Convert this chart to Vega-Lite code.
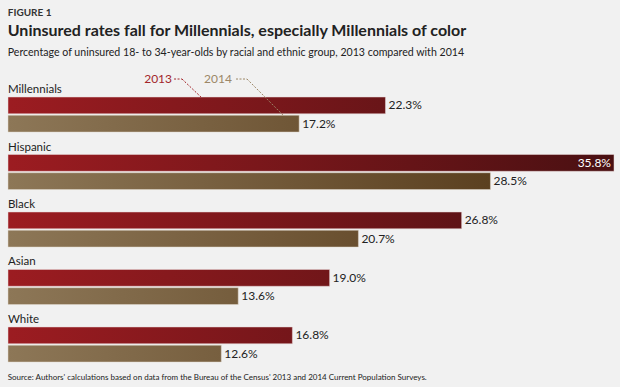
{
  "$schema": "https://vega.github.io/schema/vega-lite/v6.json",
  "background": "#f1f1f1",
  "padding": {"left": 7, "right": 6, "top": 8, "bottom": 4},
  "config": {"font": "Lato", "view": {"stroke": null}},
  "title": {"text": "FIGURE 1", "anchor": "start", "fontSize": 10, "fontWeight": "bold", "color": "#333333", "offset": 5},
  "vconcat": [
    {
      "title": {"text": "Source: Authors' calculations based on data from the Bureau of the Census' 2013 and 2014 Current Population Surveys.", "orient": "bottom", "anchor": "start", "fontSize": 8, "fontWeight": "normal", "color": "#222222", "offset": 12},
      "vconcat": [
        {
          "title": {"text": "Uninsured rates fall for Millennials, especially Millennials of color", "subtitle": "Percentage of uninsured 18- to 34-year-olds by racial and ethnic group, 2013 compared with 2014", "anchor": "start", "fontSize": 16, "fontWeight": "bold", "color": "#222222", "subtitleFontSize": 10.6, "subtitleColor": "#222222", "subtitlePadding": 9, "offset": 11},
          "data": {"values": [
            {"group": "Millennials", "year": "2013", "value": 0.223},
            {"group": "Millennials", "year": "2014", "value": 0.172},
            {"group": "Hispanic", "year": "2013", "value": 0.358},
            {"group": "Hispanic", "year": "2014", "value": 0.285},
            {"group": "Black", "year": "2013", "value": 0.268},
            {"group": "Black", "year": "2014", "value": 0.207},
            {"group": "Asian", "year": "2013", "value": 0.190},
            {"group": "Asian", "year": "2014", "value": 0.136},
            {"group": "White", "year": "2013", "value": 0.168},
            {"group": "White", "year": "2014", "value": 0.126}
          ]},
          "width": 606,
          "height": 292,
          "encoding": {
            "y": {"field": "group", "type": "nominal", "axis": null, "sort": ["Millennials", "Hispanic", "Black", "Asian", "White"], "scale": {"paddingInner": 0.391, "paddingOuter": 0.235, "align": 1}},
            "x": {"field": "value", "type": "quantitative", "axis": null, "scale": {"domain": [0, 0.358], "nice": false, "zero": true}}
          },
          "layer": [
            {"transform": [{"filter": "datum.group == 'Millennials' && datum.year == '2013'"}], "mark": {"type": "bar", "stroke": "#e8d8d8", "strokeWidth": 0.5, "color": {"gradient": "linear", "x1": 0, "x2": 1, "y1": 0, "y2": 0, "stops": [{"offset": 0, "color": "#9c1c21"}, {"offset": 1, "color": "#691518"}]}}, "encoding": {"yOffset": {"field": "year", "type": "ordinal", "scale": {"domain": ["2013", "2014"], "paddingInner": 0.08}}}},
            {"transform": [{"filter": "datum.group == 'Hispanic' && datum.year == '2013'"}], "mark": {"type": "bar", "stroke": "#e8d8d8", "strokeWidth": 0.5, "color": {"gradient": "linear", "x1": 0, "x2": 1, "y1": 0, "y2": 0, "stops": [{"offset": 0, "color": "#9c1c21"}, {"offset": 1, "color": "#4a1012"}]}}, "encoding": {"yOffset": {"field": "year", "type": "ordinal"}}},
            {"transform": [{"filter": "datum.group == 'Black' && datum.year == '2013'"}], "mark": {"type": "bar", "stroke": "#e8d8d8", "strokeWidth": 0.5, "color": {"gradient": "linear", "x1": 0, "x2": 1, "y1": 0, "y2": 0, "stops": [{"offset": 0, "color": "#9c1c21"}, {"offset": 1, "color": "#5f1316"}]}}, "encoding": {"yOffset": {"field": "year", "type": "ordinal"}}},
            {"transform": [{"filter": "datum.group == 'Asian' && datum.year == '2013'"}], "mark": {"type": "bar", "stroke": "#e8d8d8", "strokeWidth": 0.5, "color": {"gradient": "linear", "x1": 0, "x2": 1, "y1": 0, "y2": 0, "stops": [{"offset": 0, "color": "#9c1c21"}, {"offset": 1, "color": "#711619"}]}}, "encoding": {"yOffset": {"field": "year", "type": "ordinal"}}},
            {"transform": [{"filter": "datum.group == 'White' && datum.year == '2013'"}], "mark": {"type": "bar", "stroke": "#e8d8d8", "strokeWidth": 0.5, "color": {"gradient": "linear", "x1": 0, "x2": 1, "y1": 0, "y2": 0, "stops": [{"offset": 0, "color": "#9c1c21"}, {"offset": 1, "color": "#75161a"}]}}, "encoding": {"yOffset": {"field": "year", "type": "ordinal"}}},
            {"transform": [{"filter": "datum.group == 'Millennials' && datum.year == '2014'"}], "mark": {"type": "bar", "stroke": "#e0d8cc", "strokeWidth": 0.5, "color": {"gradient": "linear", "x1": 0, "x2": 1, "y1": 0, "y2": 0, "stops": [{"offset": 0, "color": "#8d7757"}, {"offset": 1, "color": "#6f5636"}]}}, "encoding": {"yOffset": {"field": "year", "type": "ordinal"}}},
            {"transform": [{"filter": "datum.group == 'Hispanic' && datum.year == '2014'"}], "mark": {"type": "bar", "stroke": "#e0d8cc", "strokeWidth": 0.5, "color": {"gradient": "linear", "x1": 0, "x2": 1, "y1": 0, "y2": 0, "stops": [{"offset": 0, "color": "#8d7757"}, {"offset": 1, "color": "#5b4020"}]}}, "encoding": {"yOffset": {"field": "year", "type": "ordinal"}}},
            {"transform": [{"filter": "datum.group == 'Black' && datum.year == '2014'"}], "mark": {"type": "bar", "stroke": "#e0d8cc", "strokeWidth": 0.5, "color": {"gradient": "linear", "x1": 0, "x2": 1, "y1": 0, "y2": 0, "stops": [{"offset": 0, "color": "#8d7757"}, {"offset": 1, "color": "#694f2f"}]}}, "encoding": {"yOffset": {"field": "year", "type": "ordinal"}}},
            {"transform": [{"filter": "datum.group == 'Asian' && datum.year == '2014'"}], "mark": {"type": "bar", "stroke": "#e0d8cc", "strokeWidth": 0.5, "color": {"gradient": "linear", "x1": 0, "x2": 1, "y1": 0, "y2": 0, "stops": [{"offset": 0, "color": "#8d7757"}, {"offset": 1, "color": "#755d3d"}]}}, "encoding": {"yOffset": {"field": "year", "type": "ordinal"}}},
            {"transform": [{"filter": "datum.group == 'White' && datum.year == '2014'"}], "mark": {"type": "bar", "stroke": "#e0d8cc", "strokeWidth": 0.5, "color": {"gradient": "linear", "x1": 0, "x2": 1, "y1": 0, "y2": 0, "stops": [{"offset": 0, "color": "#8d7757"}, {"offset": 1, "color": "#775f3f"}]}}, "encoding": {"yOffset": {"field": "year", "type": "ordinal"}}},
            {"transform": [{"filter": "datum.value < 0.3"}], "mark": {"type": "text", "align": "left", "baseline": "middle", "dx": 3, "fontSize": 12, "color": "#222222"}, "encoding": {"yOffset": {"field": "year", "type": "ordinal"}, "text": {"field": "value", "type": "quantitative", "format": ".1%"}}},
            {"transform": [{"filter": "datum.value >= 0.3"}], "mark": {"type": "text", "align": "right", "baseline": "middle", "dx": -3, "fontSize": 12, "color": "#ffffff"}, "encoding": {"yOffset": {"field": "year", "type": "ordinal"}, "text": {"field": "value", "type": "quantitative", "format": ".1%"}}},
            {"transform": [{"filter": "datum.year == '2013'"}], "mark": {"type": "text", "align": "left", "baseline": "alphabetic", "dy": -4, "fontSize": 11.5, "color": "#222222"}, "encoding": {"y": {"field": "group", "type": "nominal", "sort": ["Millennials", "Hispanic", "Black", "Asian", "White"], "bandPosition": 0}, "x": {"datum": 0, "type": "quantitative"}, "text": {"field": "group"}}},
            {"transform": [{"filter": "datum.group == 'Millennials' && datum.year == '2013'"}], "mark": {"type": "text", "text": "2013", "align": "right", "baseline": "middle", "dy": -35.5, "fontSize": 12, "color": "#a3262b"}, "encoding": {"x": {"datum": 0.0969, "type": "quantitative"}}},
            {"transform": [{"filter": "datum.group == 'Millennials' && datum.year == '2013'"}], "mark": {"type": "text", "text": "2014", "align": "right", "baseline": "middle", "dy": -35.5, "fontSize": 12, "color": "#9c8767"}, "encoding": {"x": {"datum": 0.1323, "type": "quantitative"}}},
            {"transform": [{"filter": "datum.group == 'Millennials' && datum.year == '2013'"}], "mark": {"type": "rule", "strokeDash": [2, 1.5], "color": "#a3262b", "strokeWidth": 1, "yOffset": -35.5}, "encoding": {"x": {"datum": 0.0981, "type": "quantitative"}, "x2": {"datum": 0.1028}}},
            {"transform": [{"filter": "datum.group == 'Millennials' && datum.year == '2013'"}], "mark": {"type": "rule", "strokeDash": [2, 1.5], "color": "#a3262b", "strokeWidth": 1, "yOffset": -35.5, "y2Offset": -17.5}, "encoding": {"x": {"datum": 0.1028, "type": "quantitative"}, "x2": {"datum": 0.114}, "y2": {"field": "group"}}},
            {"transform": [{"filter": "datum.group == 'Millennials' && datum.year == '2013'"}], "mark": {"type": "rule", "strokeDash": [2, 1.5], "color": "#9c8767", "strokeWidth": 1, "yOffset": -35.5}, "encoding": {"x": {"datum": 0.1347, "type": "quantitative"}, "x2": {"datum": 0.1412}}},
            {"transform": [{"filter": "datum.group == 'Millennials' && datum.year == '2013'"}], "mark": {"type": "rule", "strokeDash": [2, 1.5], "color": "#9c8767", "strokeWidth": 1, "yOffset": -35.5, "y2Offset": 0.5}, "encoding": {"x": {"datum": 0.1412, "type": "quantitative"}, "x2": {"datum": 0.1624}, "y2": {"field": "group"}}}
          ]
        }
      ]
    }
  ]
}
